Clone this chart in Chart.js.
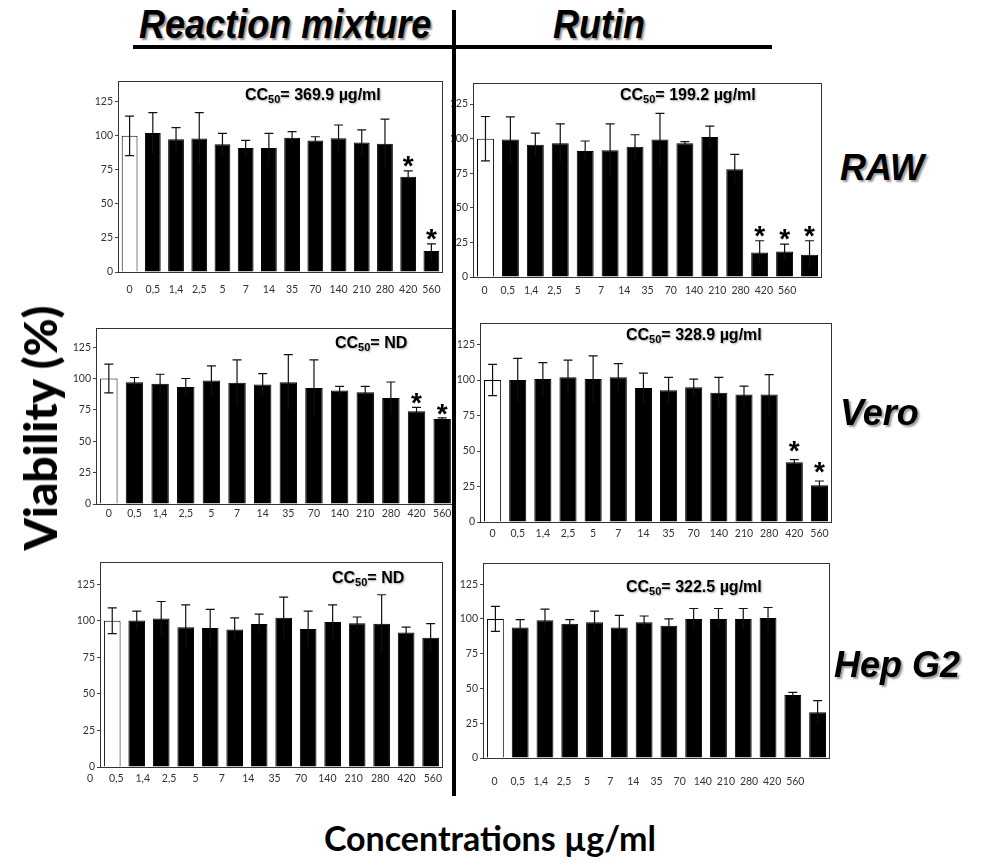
<!DOCTYPE html>
<html>
<head>
<meta charset="utf-8">
<script src="https://cdn.jsdelivr.net/npm/chart.js@4/dist/chart.umd.min.js"></script>
<style>
  html, body { margin: 0; padding: 0; background: #fff; }
  body { position: relative; width: 981px; height: 863px; overflow: hidden; font-family: "Liberation Sans", Arial, sans-serif; }
  .abs { position: absolute; white-space: nowrap; }
  .head { font-family: "Liberation Sans Narrow", "Liberation Sans", Arial, sans-serif; font-weight: bold; font-style: italic; font-size: 40px; text-shadow: 2px 2px 2px rgba(0,0,0,0.45); line-height: 44px; transform: scaleX(0.9); transform-origin: center; }
  .cell { font-weight: bold; font-style: italic; font-size: 36px; text-shadow: 2px 2px 2px rgba(0,0,0,0.4); line-height: 40px; }
  .cc { font-weight: bold; font-size: 16px; line-height: 20px; text-shadow: 1px 1px 2px rgba(0,0,0,0.35); }
  .cc sub { font-size: 11px; vertical-align: -3px; }
  .rule { position: absolute; background: #000; }
</style>
</head>
<body>
<script>
// Concentration categories (µg/ml) and y-axis ticks shared by all panels
const concentrations = ["0", "0,5", "1,4", "2,5", "5", "7", "14", "35", "70", "140", "210", "280", "420", "560"];
const yTickValues = [0, 25, 50, 75, 100, 125];

// Reaction mixture: mean viability (%), SD, significant bars (index)
const mixRawMean  = [100, 102, 97.4, 98, 93.8, 91.1, 91.1, 98.6, 96.6, 98.1, 95, 94.2, 70, 15.4];
const mixRawSd    = [14.5, 15, 8.6, 19, 8, 5.5, 10.6, 4.5, 2.7, 9.8, 9.3, 18, 4.3, 5.3];
const mixRawSig   = [12, 13];
const mixVeroMean = [100, 97.1, 95.8, 93.2, 98.4, 96.6, 95.3, 97.1, 92.4, 90.4, 89.1, 84.4, 74, 67.7];
const mixVeroSd   = [11.5, 3.7, 7.6, 6.8, 11.7, 18.2, 8.6, 21.9, 22.4, 3.4, 4.7, 12.8, 3, 1];
const mixVeroSig  = [12, 13];
const mixHepMean  = [100, 100.2, 101.6, 95.6, 95.1, 94, 97.8, 102, 94.4, 99.1, 98.4, 98, 92, 88.4];
const mixHepSd    = [8.8, 6.4, 11.6, 15.3, 12.7, 8, 6.7, 14.2, 12.2, 11.8, 4.2, 19.8, 3.6, 9.6];
const mixHepSig   = [];

// Rutin: mean viability (%), SD, significant bars (index)
const rutRawMean  = [100, 99.3, 95.5, 96.7, 91, 91.7, 94.1, 99.3, 96.7, 101.2, 77.8, 17.7, 18.4, 16];
const rutRawSd    = [16, 16.5, 8.5, 14, 7.3, 19, 8.7, 19, 1.2, 7.8, 10.9, 8.5, 5.4, 10.2];
const rutRawSig   = [11, 12, 13];
const rutVeroMean = [100, 100, 100.7, 101.9, 100.7, 101.9, 94.4, 92.8, 94.9, 91, 89.8, 89.8, 42.1, 25.9];
const rutVeroSd   = [11, 15.3, 11.6, 12.2, 16.4, 9.7, 10.5, 9.1, 5.8, 10.9, 6, 14.1, 1.9, 3];
const rutVeroSig  = [12, 13];
const rutHepMean  = [100, 93.9, 99.1, 96.5, 97.7, 93.9, 97.7, 95.1, 100, 100, 100, 100.7, 45.3, 32.9];
const rutHepSd    = [9, 5.6, 7.9, 3, 7.9, 8.6, 4.4, 4.9, 7.5, 7.5, 7.5, 7.5, 1.9, 8.4];
const rutHepSig   = [];

// CC50 captions
const cc50Text = ["369.9 µg/ml", "199.2 µg/ml", "ND", "328.9 µg/ml", "ND", "322.5 µg/ml"];

// Panel placement: plot-area box, x-label style, label gap and caption spot
const panels = [
  { mean: mixRawMean,  sd: mixRawSd,  sig: mixRawSig,  box: [118, 77, 443, 272],  labels: "aligned",    gap: 11, starDrop: 4, cc: [245, 85] },
  { mean: rutRawMean,  sd: rutRawSd,  sig: rutRawSig,  box: [473, 79, 822, 277],  labels: "compressed", gap: 7,  starDrop: 4, cc: [620, 85] },
  { mean: mixVeroMean, sd: mixVeroSd, sig: mixVeroSig, box: [96, 324, 455, 504],  labels: "aligned",    gap: 3,  starDrop: 5, cc: [335, 333] },
  { mean: rutVeroMean, sd: rutVeroSd, sig: rutVeroSig, box: [480, 319, 832, 522], labels: "aligned",    gap: 5,  starDrop: 0, cc: [626, 325] },
  { mean: mixHepMean,  sd: mixHepSd,  sig: mixHepSig,  box: [100, 558, 443, 767], labels: "shifted",    gap: 5,  starDrop: 4, cc: [332, 568] },
  { mean: rutHepMean,  sd: rutHepSd,  sig: rutHepSig,  box: [483, 559, 830, 758], labels: "compressed", gap: 17, starDrop: 4, cc: [626, 577] }
];

const Y_AXIS_W = 34, X_AXIS_H = 40, PAD_TOP = 4, PAD_RIGHT = 14;
const tickFont = { family: "Lato", size: 10.5 };
const tickColor = "#333";

// Error bars, significance stars and the frame round each plot
const panelDecor = {
  id: "panelDecor",
  afterDatasetsDraw(chart, args, opts) {
    const { ctx, chartArea: a } = chart;
    const y = chart.scales.y;
    const meta = chart.getDatasetMeta(0);
    const values = chart.data.datasets[0].data;
    ctx.save();
    ctx.strokeStyle = "#111";
    ctx.lineWidth = 1.2;
    meta.data.forEach((bar, i) => {
      const yt = y.getPixelForValue(values[i] + opts.sd[i]);
      const yb = y.getPixelForValue(values[i] - opts.sd[i]);
      const half = 4.5;
      ctx.beginPath();
      ctx.moveTo(bar.x, yb); ctx.lineTo(bar.x, yt);
      ctx.moveTo(bar.x - half, yt); ctx.lineTo(bar.x + half, yt);
      if (i === 0) { ctx.moveTo(bar.x - half, yb); ctx.lineTo(bar.x + half, yb); }
      ctx.stroke();
    });
    ctx.fillStyle = "#000";
    ctx.font = 'bold 28px "Liberation Sans"';
    ctx.textAlign = "center";
    ctx.textBaseline = "alphabetic";
    opts.sig.forEach(i => {
      const bar = meta.data[i];
      const yt = y.getPixelForValue(values[i] + opts.sd[i]);
      ctx.fillText("*", bar.x, yt + opts.starDrop);
    });
    ctx.strokeStyle = "#333";
    ctx.lineWidth = 1;
    ctx.strokeRect(Math.round(a.left) + 0.5, Math.round(a.top) + 0.5, Math.round(a.right - a.left) - 1, Math.round(a.bottom - a.top));
    ctx.restore();
  }
};

function buildPanel(p) {
  const [L, T, R, B] = p.box;
  const w = (R - L) + Y_AXIS_W + PAD_RIGHT;
  const h = (B - T) + PAD_TOP + X_AXIS_H;
  const canvas = document.createElement("canvas");
  canvas.width = w; canvas.height = h;
  canvas.style.cssText = `position:absolute;left:${L - Y_AXIS_W}px;top:${T - PAD_TOP}px;width:${w}px;height:${h}px;`;
  document.body.appendChild(canvas);

  const aligned = p.labels === "aligned";
  const scales = {
    x: {
      offset: true,
      grid: { display: false, drawTicks: false },
      border: { display: false },
      ticks: { display: aligned, autoSkip: false, maxRotation: 0, minRotation: 0, font: tickFont, color: tickColor, padding: p.gap },
      afterFit: s => { s.height = aligned ? X_AXIS_H : 0; }
    },
    y: {
      min: 0, max: 140,
      afterBuildTicks: s => { s.ticks = yTickValues.map(v => ({ value: v })); },
      afterFit: s => { s.width = Y_AXIS_W; },
      grid: { drawOnChartArea: false, drawTicks: true, tickLength: 3, color: "#444" },
      border: { display: true, color: "#333" },
      ticks: { font: tickFont, color: tickColor, padding: 2 }
    }
  };
  if (!aligned) {
    scales.xl = {
      type: "category",
      position: "bottom",
      labels: p.labels === "compressed" ? [...concentrations, ""] : concentrations,
      offset: p.labels === "compressed",
      grid: { display: false, drawTicks: false },
      border: { display: false },
      ticks: { autoSkip: false, maxRotation: 0, minRotation: 0, labelOffset: p.labels === "shifted" ? -10 : 0, font: tickFont, color: tickColor, padding: p.gap },
      afterFit: s => { s.height = X_AXIS_H; }
    };
  }

  new Chart(canvas, {
    type: "bar",
    data: {
      labels: concentrations,
      datasets: [{
        data: p.mean,
        backgroundColor: p.mean.map((v, i) => i === 0 ? "#ffffff" : "#000000"),
        borderColor: "#000",
        borderWidth: 1,
        categoryPercentage: 1,
        barPercentage: 0.68
      }]
    },
    options: {
      responsive: false,
      animation: false,
      devicePixelRatio: 1,
      layout: { padding: { top: PAD_TOP, right: PAD_RIGHT, left: 0, bottom: 0 } },
      plugins: { legend: { display: false }, tooltip: { enabled: false }, panelDecor: { sd: p.sd, sig: p.sig, starDrop: p.starDrop } },
      scales
    },
    plugins: [panelDecor]
  });

  const cap = document.createElement("div");
  cap.className = "abs cc";
  cap.style.left = p.cc[0] + "px";
  cap.style.top = p.cc[1] + "px";
  cap.innerHTML = "CC<sub>50</sub>= " + cc50Text[panels.indexOf(p)];
  document.body.appendChild(cap);
}

panels.forEach(buildPanel);
</script>

<!-- Column headings and dividers -->
<div class="abs head" style="left:123px; top:2px; width:322px; text-align:center;">Reaction mixture</div>
<div class="abs head" style="left:548px; top:2px; width:100px; text-align:center;">Rutin</div>
<div class="rule" style="left:133px; top:45px; width:639px; height:4px;"></div>
<div class="rule" style="left:452px; top:10px; width:4px; height:786px;"></div>

<!-- Cell line labels -->
<div class="abs cell" style="left:840px; top:148px;">RAW</div>
<div class="abs cell" style="left:840px; top:393px;">Vero</div>
<div class="abs cell" style="left:834px; top:645px;">Hep G2</div>

<!-- Axis titles -->
<div class="abs" style="left:40px; top:428px; transform:translate(-50%,-50%) rotate(-90deg); font-family:Lato, sans-serif; font-weight:900; font-size:46px; line-height:50px;">Viability (%)</div>
<div class="abs" style="left:490px; top:838px; transform:translate(-50%,-50%); font-family:Lato, sans-serif; font-weight:bold; font-size:34px; line-height:40px;">Concentrations µg/ml</div>
</body>
</html>
